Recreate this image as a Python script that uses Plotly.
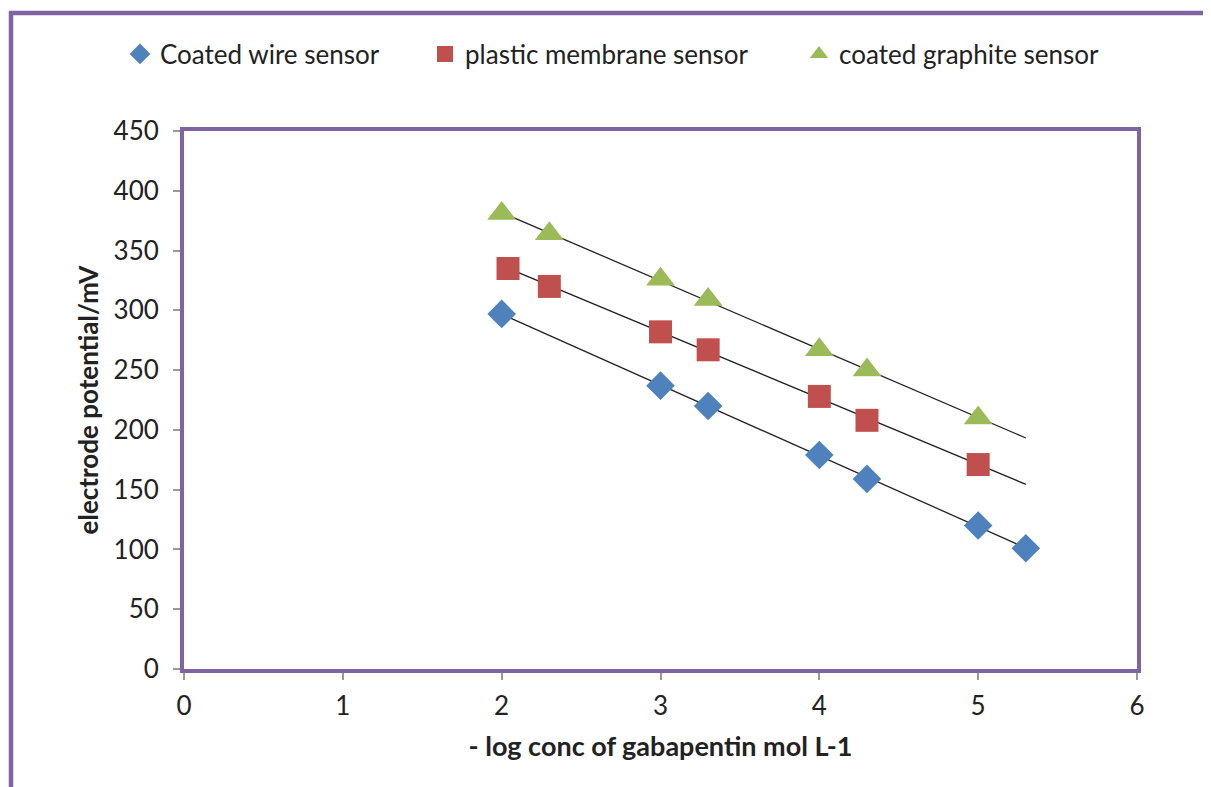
import numpy as np
import plotly.graph_objects as go

# Data
wire_x = [2, 3, 3.3, 4, 4.3, 5, 5.3]
wire_y = [297, 237, 220, 179, 159, 120, 101]
plastic_x = [2.04, 2.3, 3, 3.3, 4, 4.3, 5]
plastic_y = [335, 320, 282, 267, 228, 208, 171]
graphite_x = [2, 2.3, 3, 3.3, 4, 4.3, 5]
graphite_y = [381, 364, 326, 309, 267, 250, 210]

series_names = ["Coated wire sensor", "plastic membrane sensor", "coated graphite sensor"]
colors = ["#4F81BD", "#C0504D", "#9BBB59"]
symbols = ["diamond", "square", "triangle-up"]
sizes = [22, 23, 25]
legend_ids = ["legend", "legend2", "legend3"]

# page body has an 8px default margin; compensate so the plot lands where the reference has it
OFF = 8
W, H = 1211 - OFF, 787 - OFF
L, R, T, B = 184 - OFF, 74, 131 - OFF, 118
PW, PH = W - L - R, H - T - B


def px_to_paper_x(px):
    return (px - OFF - L) / PW


def px_to_paper_y(py):
    return (H - B - (py - OFF)) / PH


legend_x = [px_to_paper_x(v) for v in (120, 425, 799)]

x_ticks = [0, 1, 2, 3, 4, 5, 6]
y_ticks = [0, 50, 100, 150, 200, 250, 300, 350, 400, 450]

FONT = "Lato, 'Open Sans', sans-serif"
PURPLE = "#8064A2"

fig = go.Figure()
all_x = [wire_x, plastic_x, graphite_x]
all_y = [wire_y, plastic_y, graphite_y]
x_lo = min(min(v) for v in all_x)
x_hi = max(max(v) for v in all_x)

# trend lines
for xs, ys in zip(all_x, all_y):
    m, b = np.polyfit(xs, ys, 1)
    lx = np.array([x_lo, x_hi])
    fig.add_trace(go.Scatter(x=lx, y=m * lx + b, mode="lines",
                             line=dict(color="#222222", width=1.3),
                             showlegend=False, hoverinfo="skip"))

for name, xs, ys, c, s, sz, lg in zip(series_names, all_x, all_y, colors, symbols, sizes, legend_ids):
    fig.add_trace(go.Scatter(x=xs, y=ys, mode="markers", name=name, legend=lg,
                             marker=dict(color=c, symbol=s, size=sz,
                                         line=dict(width=0))))

legend_common = dict(orientation="h", yanchor="middle", y=px_to_paper_y(54),
                     xanchor="left", font=dict(size=26), itemwidth=30,
                     bgcolor="rgba(0,0,0,0)", borderwidth=0)

fig.update_layout(
    width=W, height=H,
    paper_bgcolor="white", plot_bgcolor="white",
    margin=dict(l=L, r=R, t=T, b=B, autoexpand=False),
    font=dict(family=FONT, size=26, color="#222222"),
    legend=dict(x=legend_x[0], **legend_common),
    legend2=dict(x=legend_x[1], **legend_common),
    legend3=dict(x=legend_x[2], **legend_common),
    xaxis=dict(range=[0, 6], tickvals=x_ticks, showgrid=False, zeroline=False,
               showline=True, mirror=True, linecolor=PURPLE, linewidth=4,
               ticks="outside", ticklen=7, tickcolor="#999999", tickwidth=1.5,
               tickfont=dict(size=26), ticklabelstandoff=4,
               title=dict(text="<b>- log conc of gabapentin mol L-1</b>",
                          font=dict(size=27), standoff=18)),
    yaxis=dict(range=[0, 450], tickvals=y_ticks, showgrid=False, zeroline=False,
               showline=True, mirror=True, linecolor=PURPLE, linewidth=4,
               ticks="outside", ticklen=7, tickcolor="#999999", tickwidth=1.5,
               tickfont=dict(size=26), ticklabelstandoff=9,
               title=dict(text="<b>electrode potential/mV</b>",
                          font=dict(size=26), standoff=8)),
)

# outer chart border (partially visible: left and top edges)
fig.add_shape(type="rect", xref="paper", yref="paper",
              x0=px_to_paper_x(11), x1=1.2, y0=-0.4, y1=px_to_paper_y(13),
              line=dict(color=PURPLE, width=4.5), fillcolor="rgba(0,0,0,0)", layer="below")

fig.write_html("out.html")
